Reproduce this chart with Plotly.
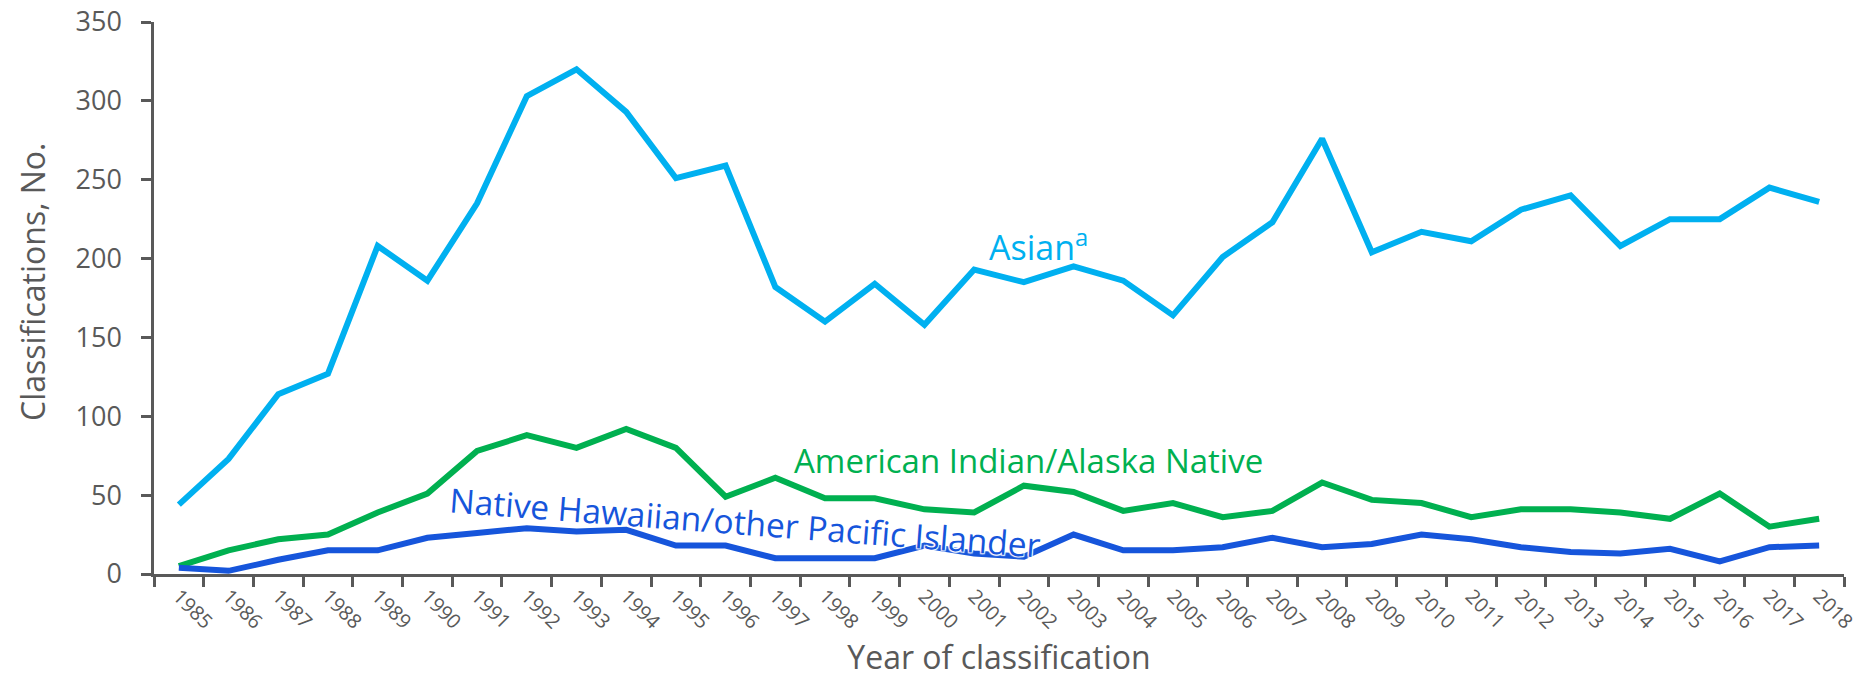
import plotly.graph_objects as go

years = [str(y) for y in range(1985, 2019)]
asian = [44, 73, 114, 127, 208, 186, 235, 303, 320, 293, 251, 259,
         182, 160, 184, 158, 193, 185, 195, 186, 164, 201, 223, 276,
         204, 217, 211, 231, 240, 208, 225, 225, 245, 236]
aian = [5, 15, 22, 25, 39, 51, 78, 88, 80, 92, 80, 49,
        61, 48, 48, 41, 39, 56, 52, 40, 45, 36, 40, 58,
        47, 45, 36, 41, 41, 39, 35, 51, 30, 35]
nhpi = [4, 2, 9, 15, 15, 23, 26, 29, 27, 28, 18, 18,
        10, 10, 10, 18, 13, 11, 25, 15, 15, 17, 23, 17,
        19, 25, 22, 17, 14, 13, 16, 8, 17, 18]

C_ASIAN = "#00B0F0"
C_AIAN = "#00B050"
C_NHPI = "#1655DB"
GREY = "#595959"
FONT = "Open Sans"

# page body has an 8px default margin; margins below compensate for it
ML, MT = 146, 14
PLOT_W, PLOT_H = 1690, 552

fig = go.Figure()
for name, vals, col in [("Asian", asian, C_ASIAN),
                        ("American Indian/Alaska Native", aian, C_AIAN),
                        ("Native Hawaiian/other Pacific Islander", nhpi, C_NHPI)]:
    fig.add_trace(go.Scatter(x=years, y=vals, mode="lines", name=name,
                             line=dict(color=col, width=6), showlegend=False))

fig.add_annotation(x=17.3, y=208, text="Asian<sup>a</sup>", showarrow=False,
                   font=dict(family=FONT, size=34, color=C_ASIAN))
fig.add_annotation(x=17.1, y=72, text="American Indian/Alaska Native", showarrow=False,
                   font=dict(family=FONT, size=33, color=C_AIAN))
fig.add_annotation(x=11.4, y=33, text="Native Hawaiian/other Pacific Islander", showarrow=False,
                   textangle=4.4,
                   font=dict(family=FONT, size=33.5, color=C_NHPI,
                             shadow="1px 1px 1px white, -1px -1px 1px white, 1px -1px 1px white, -1px 1px 1px white"))
# y-axis title
fig.add_annotation(xref="paper", yref="paper", x=(24 - ML) / PLOT_W, y=(566 - 273) / PLOT_H,
                   xanchor="center", yanchor="middle",
                   text="Classifications, No.", textangle=-90, showarrow=False,
                   font=dict(family=FONT, size=32, color=GREY))

fig.update_layout(
    width=1864, height=692,
    margin=dict(l=ML, r=1864 - ML - PLOT_W, t=MT, b=692 - MT - PLOT_H),
    paper_bgcolor="white", plot_bgcolor="white",
    font=dict(family=FONT, color=GREY),
)
fig.update_xaxes(
    type="category", range=[-0.5, 33.5], tickangle=45, automargin=False,
    showline=True, linecolor=GREY, linewidth=2.5,
    ticks="outside", tickson="boundaries", ticklen=10, tickcolor=GREY, tickwidth=2.5,
    tickfont=dict(family=FONT, size=20, color=GREY), ticklabeloverflow="allow",
    showgrid=False, zeroline=False,
    title=dict(text="Year of classification", font=dict(family=FONT, size=32, color=GREY), standoff=10),
)
fig.update_yaxes(
    range=[0, 350], dtick=50, automargin=False,
    showline=True, linecolor=GREY, linewidth=2.5,
    ticks="outside", ticklen=10, tickcolor=GREY, tickwidth=2.5, ticklabelstandoff=14,
    tickfont=dict(family=FONT, size=27, color=GREY), ticklabeloverflow="allow",
    showgrid=False, zeroline=False,
)

fig.write_html("out.html")
